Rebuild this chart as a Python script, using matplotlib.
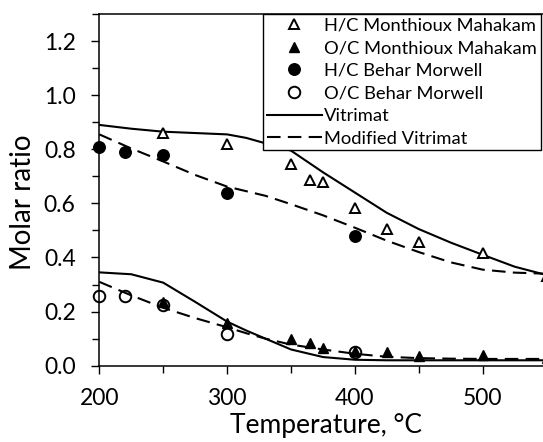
import matplotlib
matplotlib.use("Agg")
import matplotlib.pyplot as plt
from matplotlib.ticker import MultipleLocator

plt.rcParams['font.family'] = ['Lato', 'DejaVu Sans']

# measured points, H/C and O/C molar ratios
hc_mahakam_t = [250, 300, 350, 365, 375, 400, 425, 450, 500, 550]
hc_mahakam = [0.86, 0.82, 0.745, 0.685, 0.678, 0.583, 0.507, 0.458, 0.415, 0.33]
oc_mahakam_t = [250, 300, 350, 365, 375, 400, 425, 450, 500, 550]
oc_mahakam = [0.236, 0.156, 0.10, 0.084, 0.064, 0.055, 0.049, 0.035, 0.038, 0.03]
hc_morwell_t = [200, 220, 250, 300, 400]
hc_morwell = [0.809, 0.79, 0.778, 0.639, 0.479]
oc_morwell_t = [200, 220, 250, 300, 400]
oc_morwell = [0.258, 0.258, 0.226, 0.117, 0.052]

# model curves
model_t = [200, 225, 250, 275, 300, 315, 330, 350, 375, 400, 425, 450, 475, 500, 525, 550]
vit_hc = [0.89, 0.876, 0.865, 0.86, 0.855, 0.842, 0.822, 0.795, 0.715, 0.64,
          0.565, 0.505, 0.455, 0.41, 0.366, 0.335]
vit_oc = [0.345, 0.338, 0.307, 0.236, 0.163, 0.13, 0.1, 0.06, 0.032, 0.022,
          0.02, 0.02, 0.02, 0.02, 0.02, 0.02]
mod_hc = [0.855, 0.803, 0.755, 0.705, 0.662, 0.645, 0.628, 0.597, 0.556, 0.51,
          0.462, 0.42, 0.382, 0.355, 0.344, 0.34]
mod_oc = [0.31, 0.26, 0.214, 0.176, 0.142, 0.12, 0.1, 0.078, 0.06, 0.044,
          0.033, 0.028, 0.026, 0.025, 0.025, 0.025]

fig = plt.figure(figsize=(5.43, 4.42), dpi=100)
W, H = 543, 442
ax = fig.add_axes([99.3 / W, 1 - 365.7 / H, 447.3 / W, 351.7 / H])

dash = (0, (6.5, 3.5))
ax.plot(model_t, vit_hc, color='black', lw=1.5, zorder=2)
ax.plot(model_t, vit_oc, color='black', lw=1.5, zorder=2)
ax.plot(model_t, mod_hc, color='black', lw=1.5, ls=dash, zorder=2)
ax.plot(model_t, mod_oc, color='black', lw=1.5, ls=dash, zorder=2)

ax.plot(hc_mahakam_t, hc_mahakam, ls='none', marker='^', ms=6.5, mfc='white',
        mec='black', mew=1.4, clip_on=False, zorder=3)
ax.plot(oc_mahakam_t, oc_mahakam, ls='none', marker='^', ms=6.5, mfc='black',
        mec='black', mew=1.0, clip_on=False, zorder=3)
ax.plot(hc_morwell_t, hc_morwell, ls='none', marker='o', ms=8.3, mfc='black',
        mec='black', clip_on=False, zorder=3)
ax.plot(oc_morwell_t, oc_morwell, ls='none', marker='o', ms=8.3, mfc='none',
        mec='black', mew=1.4, clip_on=False, zorder=3)

ax.set_xlim(200, 550)
ax.set_ylim(0, 1.3)
ax.xaxis.set_major_locator(MultipleLocator(100))
ax.xaxis.set_minor_locator(MultipleLocator(50))
ax.yaxis.set_major_locator(MultipleLocator(0.2))
ax.yaxis.set_minor_locator(MultipleLocator(0.1))
ax.yaxis.set_major_formatter(lambda v, p: f"{v:.1f}")
ax.tick_params(which='both', direction='out', width=1.0, labelsize=16.5)
ax.tick_params(which='major', length=6)
ax.tick_params(which='minor', length=5)
ax.tick_params(axis='y', pad=11)
ax.tick_params(axis='x', pad=10)
for s in ax.spines.values():
    s.set_linewidth(1.1)

fig.text(23 / W, 1 - 202.5 / H, 'Molar ratio', rotation=90, ha='center',
         va='center', fontsize=20)
fig.text(326 / W, 1 - 433.3 / H, 'Temperature, °C', ha='center',
         va='baseline', fontsize=19)

h = [
    plt.Line2D([], [], ls='none', marker='^', ms=6.5, mfc='white', mec='black', mew=1.4),
    plt.Line2D([], [], ls='none', marker='^', ms=6.5, mfc='black', mec='black'),
    plt.Line2D([], [], ls='none', marker='o', ms=8.3, mfc='black', mec='black'),
    plt.Line2D([], [], ls='none', marker='o', ms=8.3, mfc='none', mec='black', mew=1.4),
    plt.Line2D([], [], color='black', lw=1.5),
    plt.Line2D([], [], color='black', lw=1.5, ls=dash),
]
labels = ['H/C Monthioux Mahakam', 'O/C Monthioux Mahakam', 'H/C Behar Morwell',
          'O/C Behar Morwell', 'Vitrimat', 'Modified Vitrimat']
leg = ax.legend(h, labels, loc='upper left', bbox_to_anchor=(263.3 / W, 1 - 14 / H),
                bbox_transform=fig.transFigure, borderaxespad=0, fontsize=13.2,
                frameon=True, fancybox=False, framealpha=1, edgecolor='black',
                borderpad=0.2, labelspacing=0.36, handlelength=2.98,
                handletextpad=0.15)
leg.get_frame().set_linewidth(1.0)
leg.set_zorder(5)

fig.savefig('out.png', dpi=100)
